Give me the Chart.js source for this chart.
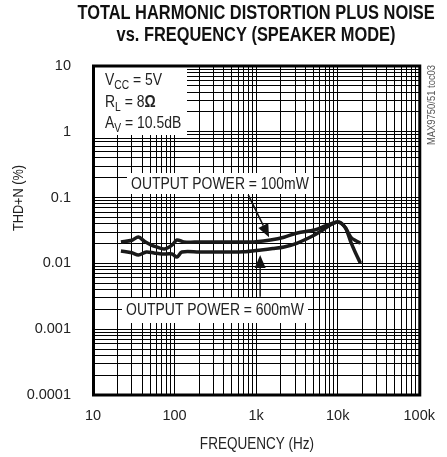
<!DOCTYPE html>
<html><head><meta charset="utf-8">
<script src="https://cdn.jsdelivr.net/npm/chart.js@4.4.1/dist/chart.umd.min.js"></script>
<style>html,body{margin:0;padding:0;background:#fff;}#wrap{width:447px;height:457px;}</style>
</head><body><div id="wrap"><canvas id="c" width="447" height="457"></canvas></div>
<script>
// ---- data ----
const freq100 = [22, 30, 36, 43, 52, 60, 75, 93, 107, 130, 200, 400, 700, 1000, 1500, 2200, 3200, 5200, 7000, 9000, 10000, 11000, 12500, 14500, 16500, 19000];
const thd100  = [0.0211, 0.0225, 0.0252, 0.0215, 0.019, 0.0178, 0.0166, 0.019, 0.0227, 0.0212, 0.0211, 0.0211, 0.0211, 0.0214, 0.0227, 0.025, 0.029, 0.0322, 0.037, 0.0415, 0.0426, 0.041, 0.0345, 0.025, 0.0222, 0.0204];
const freq600 = [22, 30, 36, 45, 56, 70, 93, 107, 123, 200, 400, 700, 1150, 1600, 2200, 3200, 5200, 6500, 8100, 9800, 11000, 12500, 14500, 16500, 19000];
const thd600  = [0.0154, 0.0145, 0.0134, 0.0149, 0.0144, 0.0139, 0.0139, 0.0125, 0.0149, 0.0149, 0.0149, 0.015, 0.016, 0.0168, 0.0178, 0.0204, 0.027, 0.032, 0.0384, 0.0426, 0.041, 0.0345, 0.021, 0.0145, 0.0101];
const xTickValues = [10, 100, 1000, 10000, 100000];
const xTickLabels = ['10', '100', '1k', '10k', '100k'];
const yTickValues = [0.0001, 0.001, 0.01, 0.1, 1, 10];
const yTickLabels = ['0.0001', '0.001', '0.01', '0.1', '1', '10'];
const titleLines = ['TOTAL HARMONIC DISTORTION PLUS NOISE', 'vs. FREQUENCY (SPEAKER MODE)'];
const seriesLabels = ['OUTPUT POWER = 100mW', 'OUTPUT POWER = 600mW'];
// arrow anchor points in data units [freq, thd]
const arrow100 = {from: [800, 0.11], to: [1440, 0.025]};
const arrow600 = {from: [1120, 0.0031], to: [1120, 0.0134]};

const FONT = "'Liberation Sans', Arimo, Arial, sans-serif";
const SX = 0.82; // horizontal squeeze to mimic a narrow face

function decadeTicks(vals) {
  const out = [];
  for (let i = 0; i < vals.length - 1; i++) {
    for (let m = 1; m <= 9; m++) out.push(+(vals[i] * m).toPrecision(6));
  }
  out.push(vals[vals.length - 1]);
  return out;
}
function labelFor(value, vals, labels) {
  for (let i = 0; i < vals.length; i++) {
    if (Math.abs(Math.log10(value) - Math.log10(vals[i])) < 1e-6) return labels[i];
  }
  return '';
}
function txt(ctx, s, x, y, font, align, rot) {
  ctx.save();
  ctx.font = font; ctx.textAlign = align || 'center'; ctx.textBaseline = 'middle';
  ctx.translate(x, y);
  if (rot) ctx.rotate(rot);
  ctx.scale(SX, 1);
  ctx.fillText(s, 0, 0);
  ctx.restore();
}
function drawArrow(ctx, x1, y1, x2, y2) {
  const ang = Math.atan2(y2 - y1, x2 - x1);
  const L = 13, W = 5.5;
  const bx = x2 - L * Math.cos(ang), by = y2 - L * Math.sin(ang);
  ctx.beginPath();
  ctx.moveTo(x1, y1); ctx.lineTo(bx, by);
  ctx.lineWidth = 1.5; ctx.strokeStyle = '#111'; ctx.stroke();
  ctx.beginPath();
  ctx.moveTo(x2, y2);
  ctx.lineTo(bx + W * Math.sin(ang), by - W * Math.cos(ang));
  ctx.lineTo(bx - W * Math.sin(ang), by + W * Math.cos(ang));
  ctx.closePath(); ctx.fillStyle = '#111'; ctx.fill();
}
function drawRich(ctx, x, y, parts) {
  let cx = x;
  ctx.textAlign = 'left'; ctx.textBaseline = 'alphabetic';
  parts.forEach(p => {
    ctx.font = (p.bold ? 'bold ' : '') + (p.sub ? '12.5px ' : '17px ') + FONT;
    ctx.save();
    ctx.translate(cx, y + (p.sub ? 4 : 0));
    ctx.scale(SX, 1);
    ctx.fillText(p.t, 0, 0);
    ctx.restore();
    cx += ctx.measureText(p.t).width * SX;
  });
}

const annot = {
  id: 'annot',
  beforeDatasetsDraw(chart) {
    const ctx = chart.ctx, xs = chart.scales.x, ys = chart.scales.y;
    ctx.save();
    ctx.fillStyle = '#fff';
    ctx.fillRect(95, 67, 92, 68);
    ctx.fillRect(127, 173, 186, 21);
    ctx.fillRect(122, 298, 186, 25);
    ctx.fillStyle = '#222';
    drawRich(ctx, 105, 85, [{t: 'V'}, {t: 'CC', sub: true}, {t: ' = 5V'}]);
    drawRich(ctx, 105, 107, [{t: 'R'}, {t: 'L', sub: true}, {t: ' = 8'}, {t: 'Ω', bold: true}]);
    drawRich(ctx, 105, 128, [{t: 'A'}, {t: 'V', sub: true}, {t: ' = 10.5dB'}]);
    txt(ctx, seriesLabels[0], 220, 184, '17px ' + FONT);
    txt(ctx, seriesLabels[1], 215, 310, '17px ' + FONT);
    drawArrow(ctx, xs.getPixelForValue(arrow100.from[0]), ys.getPixelForValue(arrow100.from[1]),
                   xs.getPixelForValue(arrow100.to[0]), ys.getPixelForValue(arrow100.to[1]));
    drawArrow(ctx, xs.getPixelForValue(arrow600.from[0]), ys.getPixelForValue(arrow600.from[1]),
                   xs.getPixelForValue(arrow600.to[0]), ys.getPixelForValue(arrow600.to[1]));
    ctx.restore();
  },
  afterDraw(chart) {
    const ctx = chart.ctx, a = chart.chartArea;
    ctx.save();
    ctx.lineWidth = 3; ctx.strokeStyle = '#000';
    ctx.strokeRect(a.left + 0.5, a.top, a.right - a.left, a.bottom - a.top);
    ctx.fillStyle = '#111';
    txt(ctx, titleLines[0], 256, 13, 'bold 20px ' + FONT);
    txt(ctx, titleLines[1], 256, 35, 'bold 20px ' + FONT);
    ctx.fillStyle = '#222';
    txt(ctx, 'FREQUENCY (Hz)', 257, 444, '16.5px ' + FONT);
    txt(ctx, 'THD+N (%)', 19, 198, '15.5px ' + FONT, 'center', -Math.PI / 2);
    ctx.fillStyle = '#555';
    txt(ctx, 'MAX9750/51 toc03', 432, 105, '11.5px ' + FONT, 'center', -Math.PI / 2);
    ctx.restore();
  }
};

const xTicks = decadeTicks(xTickValues);
const yTicks = decadeTicks(yTickValues);

new Chart(document.getElementById('c'), {
  type: 'line',
  data: {
    datasets: [
      {label: seriesLabels[0], data: freq100.map((f, i) => ({x: f, y: thd100[i]})),
       borderColor: '#1a1a1a', borderWidth: 3.5, pointRadius: 0, tension: 0.3, fill: false},
      {label: seriesLabels[1], data: freq600.map((f, i) => ({x: f, y: thd600[i]})),
       borderColor: '#1a1a1a', borderWidth: 3.5, pointRadius: 0, tension: 0.3, fill: false}
    ]
  },
  options: {
    responsive: false, animation: false, devicePixelRatio: 1,
    layout: {padding: {top: 66, right: 24, left: 0, bottom: 0}},
    plugins: {legend: {display: false}, tooltip: {enabled: false}, title: {display: false}},
    scales: {
      x: {
        type: 'logarithmic', min: 10, max: 100000,
        afterBuildTicks: s => { s.ticks = xTicks.map(v => ({value: v})); },
        afterFit: s => { s.height = 62; },
        grid: {color: '#000', lineWidth: 1, drawTicks: false},
        border: {display: false},
        ticks: {autoSkip: false, maxRotation: 0, padding: 12, color: '#222',
                font: {family: FONT, size: 14.5},
                callback: v => labelFor(v, xTickValues, xTickLabels)}
      },
      y: {
        type: 'logarithmic', min: 0.0001, max: 10,
        afterBuildTicks: s => { s.ticks = yTicks.map(v => ({value: v})); },
        afterFit: s => { s.width = 93; },
        grid: {color: '#000', lineWidth: 1, drawTicks: false},
        border: {display: false},
        ticks: {autoSkip: false, padding: 22, color: '#222',
                font: {family: FONT, size: 14.5},
                callback: v => labelFor(v, yTickValues, yTickLabels)}
      }
    }
  },
  plugins: [annot]
});
</script></body></html>
